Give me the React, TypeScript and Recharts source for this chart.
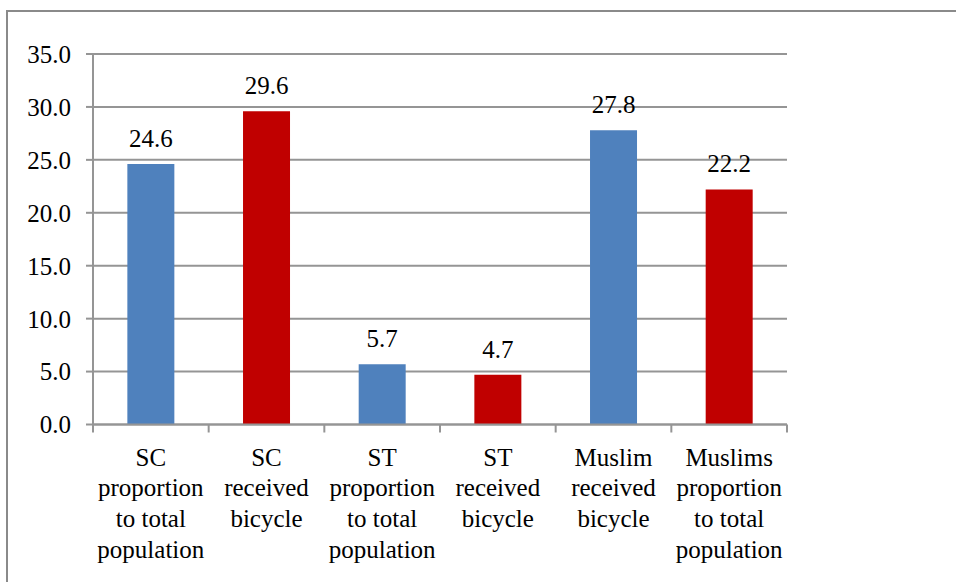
import React from "react";
import { BarChart, Bar, XAxis, YAxis, CartesianGrid, Cell, LabelList } from "recharts";

const categories = [
  "SC\nproportion\nto total\npopulation",
  "SC\nreceived\nbicycle",
  "ST\nproportion\nto total\npopulation",
  "ST\nreceived\nbicycle",
  "Muslim\nreceived\nbicycle",
  "Muslims\nproportion\nto total\npopulation",
];
const values = [24.6, 29.6, 5.7, 4.7, 27.8, 22.2];
const yTicks = [0, 5, 10, 15, 20, 25, 30, 35];

const data = categories.map((c, i) => ({ name: c, value: values[i] }));

const BLUE = "#4F81BD";
const RED = "#C00000";
const barColors = [BLUE, RED, BLUE, RED, BLUE, RED];
const GRID = "#959595";
const FONT = "Liberation Serif";

const XTick = (props: any) => {
  const { x, y, payload, index } = props;
  const off = payload && payload.offset ? payload.offset : 57.8;
  const lines = String(payload.value).split("\n");
  return (
    <g>
      <line x1={x - off} y1={y} x2={x - off} y2={y + 8} stroke={GRID} strokeWidth={2} />
      {index === categories.length - 1 && (
        <line x1={x + off} y1={y} x2={x + off} y2={y + 8} stroke={GRID} strokeWidth={2} />
      )}
      <text x={x} y={y} textAnchor="middle" fill="#000" fontSize={25} fontFamily={FONT}>
        {lines.map((l, i) => (
          <tspan key={i} x={x} y={y + 41 + i * 30.7}>
            {l}
          </tspan>
        ))}
      </text>
    </g>
  );
};

export default function App() {
  return (
    <div style={{ position: "absolute", left: 0, top: 0, width: 956, height: 582, background: "#fff", fontFamily: FONT }}>
      <div
        style={{
          position: "absolute",
          left: 6,
          top: 10,
          width: 1000,
          height: 700,
          borderLeft: "2px solid #8a8a8a",
          borderTop: "2px solid #8a8a8a",
        }}
      />
      <div style={{ position: "absolute", left: 0, top: 0 }}>
        <BarChart
          width={956}
          height={582}
          data={data}
          margin={{ top: 54, right: 169, left: 0, bottom: 7 }}
          barCategoryGap="29.7%"
        >
          <CartesianGrid horizontal={true} vertical={false} stroke={GRID} strokeWidth={2} />
          <XAxis
            dataKey="name"
            height={150.5}
            interval={0}
            tickLine={false}
            tickSize={0}
            tickMargin={0}
            axisLine={{ stroke: GRID, strokeWidth: 2 }}
            tick={<XTick />}
          />
          <YAxis
            width={93}
            domain={[0, 35]}
            ticks={yTicks}
            interval={0}
            tickFormatter={(v: number) => v.toFixed(1)}
            tickSize={7}
            tickMargin={15}
            tickLine={{ stroke: GRID, strokeWidth: 2 }}
            axisLine={{ stroke: GRID, strokeWidth: 2 }}
            tick={{ fill: "#000", fontSize: 25, fontFamily: FONT }}
          />
          <Bar dataKey="value" isAnimationActive={false}>
            {data.map((d, i) => (
              <Cell key={i} fill={barColors[i]} />
            ))}
            <LabelList
              dataKey="value"
              position="top"
              offset={17}
              fill="#000"
              fontSize={25}
              fontFamily={FONT}
              formatter={(v: any) => Number(v).toFixed(1)}
            />
          </Bar>
        </BarChart>
      </div>
    </div>
  );
}
